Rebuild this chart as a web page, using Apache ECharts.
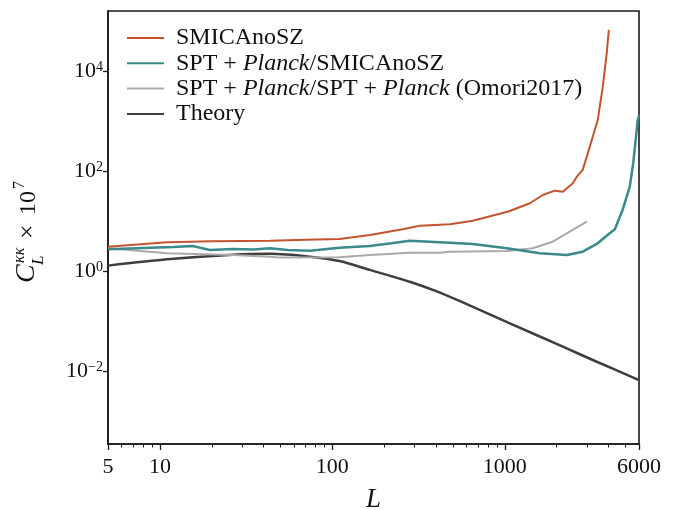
<!DOCTYPE html>
<html>
<head>
<meta charset="utf-8">
<script src="https://cdn.jsdelivr.net/npm/echarts@6/dist/echarts.min.js"></script>
<style>html,body{margin:0;padding:0;background:#fff}#c{width:691px;height:510px}</style>
</head>
<body>
<div id="c"></div>
<script>
// ---- data ----
var seriesNames = ['SMICAnoSZ', 'SPT+Planck/SMICAnoSZ', 'SPT+Planck/SPT+Planck (Omori2017)', 'Theory'];

var L_red = [5, 11, 20, 43.5, 80, 110, 165, 256, 321, 480, 652, 1050, 1396, 1660, 1950, 2170, 2480, 2615, 2830, 3110, 3460, 3700, 3900, 4010];
var C_red = [3.06, 3.75, 3.95, 4.04, 4.25, 4.37, 5.25, 6.82, 8.05, 8.59, 10.1, 15.5, 22.6, 33.1, 40.4, 38.5, 56.8, 76.9, 105, 306, 1047, 4853, 22600, 66000];

var L_teal = [5, 8, 12, 15.5, 19.5, 26.5, 35, 43.5, 55, 74, 110, 165, 220, 281, 367, 480, 652, 1028, 1596, 2290, 2830, 3415, 4060, 4345, 4830, 5305, 5550, 5900, 6000];
var C_teal = [2.72, 2.88, 3.02, 3.16, 2.63, 2.75, 2.69, 2.84, 2.63, 2.55, 2.92, 3.16, 3.6, 4.04, 3.86, 3.68, 3.47, 2.84, 2.26, 2.09, 2.43, 3.47, 5.68, 6.82, 17, 48.5, 140, 1047, 1300];

var L_gray = [5, 11, 26.5, 43.5, 50, 110, 165, 281, 420, 480, 1028, 1453, 1896, 2380, 2990];
var C_gray = [2.84, 2.26, 2.09, 1.93, 1.85, 1.88, 2.09, 2.32, 2.32, 2.43, 2.51, 2.84, 3.85, 6.11, 9.68];

var L_th = [5, 11, 26.5, 43.5, 74, 110, 165, 281, 400, 571, 1070, 2170, 3415, 6000];
var C_th = [1.28, 1.71, 2.12, 2.2, 1.93, 1.58, 1.05, 0.61, 0.395, 0.235, 0.09, 0.0306, 0.0153, 0.0066];

var xMajorTicks = [5, 10, 100, 1000, 6000];
var xMinorTicks = [6, 7, 8, 9, 20, 30, 40, 50, 60, 70, 80, 90, 200, 300, 400, 500, 600, 700, 800, 900, 2000, 3000, 4000, 5000];
var yMajorTicks = [0.01, 1, 100, 10000];

// ---- chart ----
function pairs(xs, ys) { return xs.map(function (x, i) { return [x, ys[i]]; }); }
var SERIF = '"Liberation Serif", "DejaVu Serif", serif';

var chart = echarts.init(document.getElementById('c'), null, {renderer: 'canvas'});
var xBase = {
  type: 'log', logBase: 10, min: 5, max: 6000, gridIndex: 0, position: 'bottom',
  splitLine: {show: false}, minorTick: {show: false}
};
var option = {
  animation: false,
  backgroundColor: '#fff',
  grid: {left: 108, right: 52, top: 11, bottom: 66, outerBoundsMode: 'none', containLabel: false,
    show: true, borderColor: '#1a1a1a', borderWidth: 1.6, backgroundColor: 'transparent'},
  legend: {
    orient: 'vertical', left: 122, top: 21, itemWidth: 37, itemHeight: 12, itemGap: 1.3,
    icon: 'path://M0,5 L37,5 L37,7 L0,7 Z',
    data: seriesNames,
    formatter: function (n) {
      if (n === seriesNames[1]) return '{n|SPT + }{i|Planck}{n|/SMICAnoSZ}';
      if (n === seriesNames[2]) return '{n|SPT + }{i|Planck}{n|/SPT + }{i|Planck}{n| (Omori2017)}';
      return '{n|' + n + '}';
    },
    textStyle: {
      padding: [0, 0, 0, 7],
      rich: {
        n: {fontFamily: SERIF, fontSize: 24, color: '#111', lineHeight: 24},
        i: {fontFamily: SERIF, fontSize: 24, fontStyle: 'italic', color: '#111', lineHeight: 24}
      }
    }
  },
  xAxis: [
    Object.assign({}, xBase, {
      name: 'L', nameLocation: 'middle', nameGap: 42,
      nameTextStyle: {fontFamily: SERIF, fontSize: 27, fontStyle: 'italic', color: '#111'},
      axisLine: {show: true, lineStyle: {color: '#1a1a1a', width: 1.6}},
      axisTick: {show: true, customValues: xMajorTicks, length: 6, lineStyle: {color: '#1a1a1a', width: 1.3}},
      axisLabel: {show: true, customValues: xMajorTicks, margin: 12, fontFamily: SERIF, fontSize: 22, color: '#111',
        showMinLabel: true, showMaxLabel: true,
        formatter: function (v) { return String(Math.round(v)); }}
    }),
    Object.assign({}, xBase, {
      axisLine: {show: false},
      axisTick: {show: true, customValues: xMinorTicks, length: 3.5, lineStyle: {color: '#1a1a1a', width: 1}},
      axisLabel: {show: false}
    })
  ],
  yAxis: {
    type: 'log', logBase: 10, min: 3.47e-4, max: 1.58e5,
    splitLine: {show: false}, minorTick: {show: false},
    axisLine: {show: true, lineStyle: {color: '#1a1a1a', width: 1.6}},
    axisTick: {show: true, customValues: yMajorTicks, length: 5, lineStyle: {color: '#1a1a1a', width: 1.3}},
    axisLabel: {
      customValues: yMajorTicks, margin: 5,
      formatter: function (v) {
        var e = String(Math.round(Math.log10(v))).replace('-', '\u2212');
        return '{b|10}{s|' + e + '}';
      },
      rich: {
        b: {fontFamily: SERIF, fontSize: 22, color: '#111', lineHeight: 22, verticalAlign: 'bottom'},
        s: {fontFamily: SERIF, fontSize: 14, color: '#111', lineHeight: 14, verticalAlign: 'top', padding: [0, 0, 14, 0]}
      }
    }
  },
  series: [
    {name: seriesNames[0], type: 'line', showSymbol: false, symbol: 'none', data: pairs(L_red, C_red),
      lineStyle: {color: '#c4532f', width: 2}, itemStyle: {color: '#c4532f'}, z: 4},
    {name: seriesNames[1], type: 'line', showSymbol: false, symbol: 'none', data: pairs(L_teal, C_teal),
      lineStyle: {color: '#3a8a8b', width: 2.5}, itemStyle: {color: '#3a8a8b'}, z: 3},
    {name: seriesNames[2], type: 'line', showSymbol: false, symbol: 'none', data: pairs(L_gray, C_gray),
      lineStyle: {color: '#aaaaaa', width: 2}, itemStyle: {color: '#aaaaaa'}, z: 2},
    {name: seriesNames[3], type: 'line', showSymbol: false, symbol: 'none', smooth: 0.25, data: pairs(L_th, C_th),
      lineStyle: {color: '#3e3e3e', width: 2.5}, itemStyle: {color: '#3e3e3e'}, z: 1}
  ],
  graphic: [{
    type: 'group', x: 41, y: 283, rotation: Math.PI / 2,
    children: [
      {type: 'text', x: 0, y: 0, style: {text: 'C', font: 'italic 28px ' + SERIF, fill: '#111', verticalAlign: 'bottom', align: 'left'}},
      {type: 'text', x: 20, y: -13, style: {text: '\u03ba\u03ba', font: 'italic 16px ' + SERIF, fill: '#111', verticalAlign: 'bottom', align: 'left'}},
      {type: 'text', x: 18, y: 6, style: {text: 'L', font: 'italic 17px ' + SERIF, fill: '#111', verticalAlign: 'bottom', align: 'left'}},
      {type: 'text', x: 44, y: 0, style: {text: '\u00d7', font: '26px ' + SERIF, fill: '#111', verticalAlign: 'bottom', align: 'left'}},
      {type: 'text', x: 68, y: 0, style: {text: '10', font: '24px ' + SERIF, fill: '#111', verticalAlign: 'bottom', align: 'left'}},
      {type: 'text', x: 94, y: -13, style: {text: '7', font: '16px ' + SERIF, fill: '#111', verticalAlign: 'bottom', align: 'left'}}
    ]
  }]
};
chart.setOption(option);
</script>
</body>
</html>
